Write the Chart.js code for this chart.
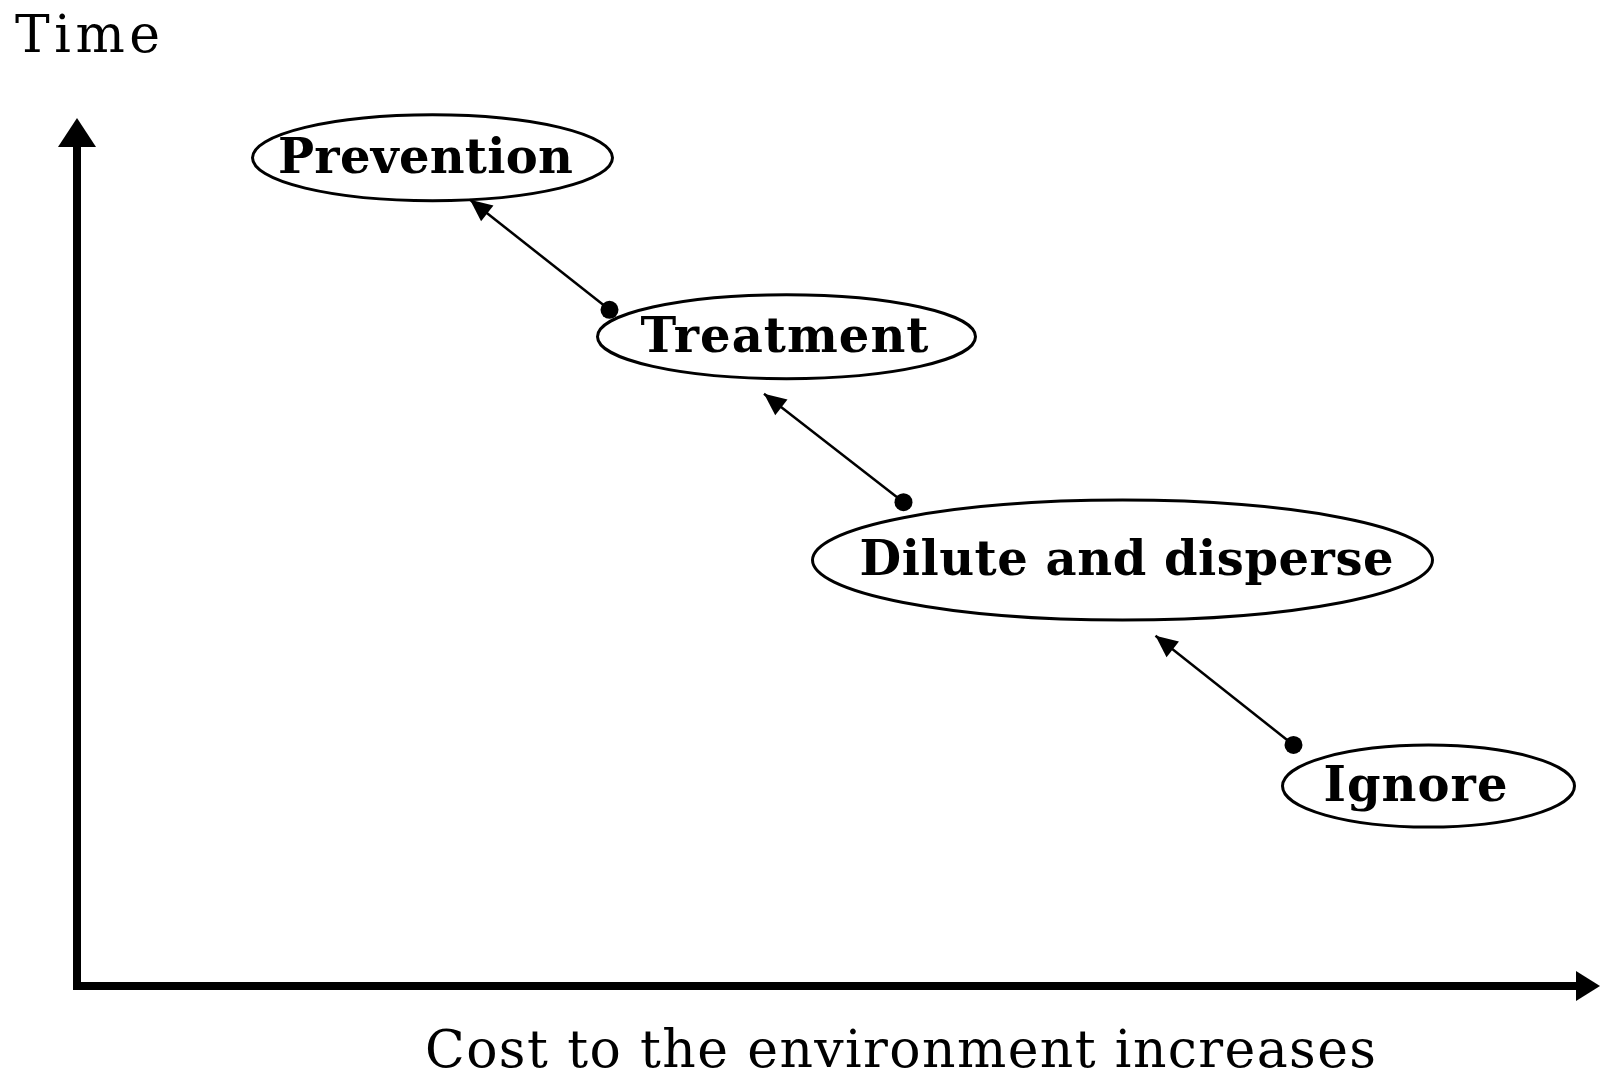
<!DOCTYPE html>
<html>
<head>
<meta charset="utf-8">
<title>Cost to the environment</title>
<script src="https://cdn.jsdelivr.net/npm/chart.js@4.4.0/dist/chart.umd.min.js"></script>
<style>
	html, body { margin: 0; padding: 0; background: #fff; }
	.wrapper { width: 1600px; height: 1074px; position: relative; }
</style>
</head>
<body>
<div class="wrapper"><canvas id="scheme"></canvas></div>
<script>
// data: stages on the cost / time plane (0..100 on both axes)
const stages = ['Prevention', 'Treatment', 'Dilute and disperse', 'Ignore']
const stageCost = [23.7, 47.3, 69.7, 90.1]
const stageTime = [98.6, 77.3, 50.7, 23.8]

// links between stages: dot end -> arrow end
const linkFromCost = [35.5, 55.1, 81.1]
const linkFromTime = [80.5, 57.6, 28.7]
const linkToCost = [26.2, 45.8, 71.9]
const linkToTime = [93.6, 70.5, 41.7]

const titleY = 'Time'
const titleX = 'Cost to the environment increases'

// look of the stage ellipses
const ellipseRadius = [[180, 43], [189, 42], [310, 60], [146, 41]]
const labelWidth = [295, 288, 534, 184]
const labelShift = [-7, -2, 4, -13]

const labelFont = 'bold 48px "DejaVu Serif"'
const titleFont = '52px "DejaVu Serif"'

function spacedText(c, text, font, left, baseline, width){
	c.save()
	c.font = font
	c.letterSpacing = '0px'
	const natural = c.measureText(text).width
	c.letterSpacing = ((width - natural) / (text.length - 1)) + 'px'
	c.textAlign = 'left'
	c.textBaseline = 'alphabetic'
	c.fillStyle = '#000'
	c.fillText(text, left, baseline)
	c.restore()
}

const stageDataset = {
	label: 'stages',
	data: stageCost.map((v, i) => ({x: v, y: stageTime[i]})),
	pointRadius: 0,
	showLine: false
}

const linkDatasets = linkFromCost.map((v, i) => ({
	label: 'link' + i,
	data: [{x: v, y: linkFromTime[i]}, {x: linkToCost[i], y: linkToTime[i]}],
	showLine: true,
	borderColor: '#000',
	borderWidth: 2.5,
	pointRadius: [9, 0],
	pointBackgroundColor: '#000',
	pointBorderWidth: 0,
	clip: false
}))

const schemePlugin = {
	id: 'scheme',
	beforeDatasetsDraw(chart){
		const c = chart.ctx
		const meta = chart.getDatasetMeta(0)
		meta.data.forEach((pt, i) => {
			const [rx, ry] = ellipseRadius[i]
			c.save()
			c.beginPath()
			c.ellipse(pt.x, pt.y, rx, ry, 0, 0, Math.PI * 2)
			c.lineWidth = 3
			c.strokeStyle = '#000'
			c.stroke()
			c.restore()
			const w = labelWidth[i]
			spacedText(c, stages[i], labelFont, pt.x + labelShift[i] - w / 2, pt.y + 15, w)
		})
	},
	afterDatasetsDraw(chart){
		const c = chart.ctx
		c.save()
		c.fillStyle = '#000'
		for(let i = 1; i < chart.data.datasets.length; i++){
			const pts = chart.getDatasetMeta(i).data
			const a = pts[0], b = pts[1]
			const ang = Math.atan2(b.y - a.y, b.x - a.x)
			const len = 22, half = 10
			c.beginPath()
			c.moveTo(b.x, b.y)
			c.lineTo(b.x - len * Math.cos(ang) + half * Math.sin(ang), b.y - len * Math.sin(ang) - half * Math.cos(ang))
			c.lineTo(b.x - len * Math.cos(ang) - half * Math.sin(ang), b.y - len * Math.sin(ang) + half * Math.cos(ang))
			c.closePath()
			c.fill()
		}
		c.restore()
	},
	afterDraw(chart){
		const c = chart.ctx
		const {left, top, right, bottom} = chart.chartArea
		c.save()
		c.fillStyle = '#000'
		// arrow heads of the axes
		c.beginPath()
		c.moveTo(left, top - 28)
		c.lineTo(left - 19, top + 1)
		c.lineTo(left + 19, top + 1)
		c.closePath()
		c.fill()
		c.beginPath()
		c.moveTo(right + 23, bottom)
		c.lineTo(right - 1, bottom - 15)
		c.lineTo(right - 1, bottom + 15)
		c.closePath()
		c.fill()
		c.restore()
		spacedText(c, titleY, titleFont, 15, 52, 145)
		spacedText(c, titleX, titleFont, 425, 1067, 951)
	}
}

function axis(){
	return {
		type: 'linear',
		min: 0,
		max: 100,
		ticks: {display: false},
		grid: {display: true, drawOnChartArea: false, drawTicks: false},
		border: {display: true, width: 8, color: '#000'}
	}
}

const ctx = document.getElementById('scheme').getContext('2d')
const scheme = new Chart(ctx, {
	type: 'scatter',
	data: {datasets: [stageDataset, ...linkDatasets]},
	options: {
		responsive: true,
		maintainAspectRatio: false,
		animation: false,
		events: [],
		layout: {
			autoPadding: false,
			padding: {left: 77, top: 146, right: 23, bottom: 88}
		},
		scales: {x: axis(), y: axis()},
		plugins: {
			legend: {display: false},
			tooltip: {enabled: false}
		}
	},
	plugins: [schemePlugin]
})
</script>
</body>
</html>
